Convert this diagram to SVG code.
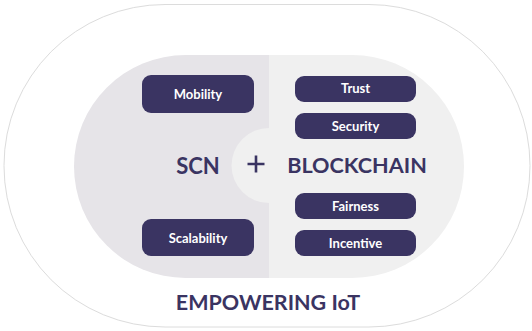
<svg xmlns="http://www.w3.org/2000/svg" width="532" height="331" viewBox="0 0 532 331">
<defs>
<style>
.pill{fill:#3a3462;}
.pt{fill:#ffffff;font-family:Lato,"Open Sans",sans-serif;font-weight:bold;font-size:13px;text-anchor:middle;dominant-baseline:central;}
.big{fill:#3a3462;font-family:Lato,"Open Sans",sans-serif;font-weight:bold;text-anchor:middle;dominant-baseline:central;}
</style>
<clipPath id="inner"><rect x="74" y="55" width="390" height="223" rx="111.5" ry="111.5"/></clipPath>
</defs>
<rect width="532" height="331" fill="#ffffff"/>
<rect id="outer" x="4" y="4.5" width="526" height="322.5" rx="161" ry="161" fill="#ffffff" stroke="#dcdcdc" stroke-width="1"/>
<g id="core" clip-path="url(#inner)">
<rect x="74" y="55" width="195" height="223" fill="#e6e4e8"/>
<rect x="269" y="55" width="195" height="223" fill="#f0f0f0"/>
<circle cx="269" cy="165.5" r="37.5" fill="#f0f0f0"/>
</g>
<g id="connectors"></g>
<g id="plus"><path d="M247.5 164H264.5M256 155.5V172.5" stroke="#3a3462" stroke-width="2.6" fill="none"/></g>
<g id="scn"><text class="big" x="198" y="165" font-size="22">SCN</text></g>
<g id="blockchain"><text class="big" x="357" y="165" font-size="21.6">BLOCKCHAIN</text></g>
<g id="mobility"><rect class="pill" x="142" y="75" width="112" height="38" rx="9"/><text class="pt" x="198" y="94">Mobility</text></g>
<g id="scalability"><rect class="pill" x="142" y="219" width="112" height="37" rx="9"/><text class="pt" x="198" y="237.5">Scalability</text></g>
<g id="trust"><rect class="pill" x="295" y="76" width="121" height="26" rx="9"/><text class="pt" x="355.5" y="88">Trust</text></g>
<g id="security"><rect class="pill" x="295" y="113" width="121" height="26" rx="9"/><text class="pt" x="355.5" y="125.5">Security</text></g>
<g id="fairness"><rect class="pill" x="295" y="193" width="121" height="26" rx="9"/><text class="pt" x="355.5" y="205.5">Fairness</text></g>
<g id="incentive"><rect class="pill" x="295" y="230" width="121" height="26" rx="9"/><text class="pt" x="355.5" y="242.5">Incentive</text></g>
<g id="title"><text class="big" x="268" y="301.5" font-size="21.5">EMPOWERING IoT</text></g>
</svg>
